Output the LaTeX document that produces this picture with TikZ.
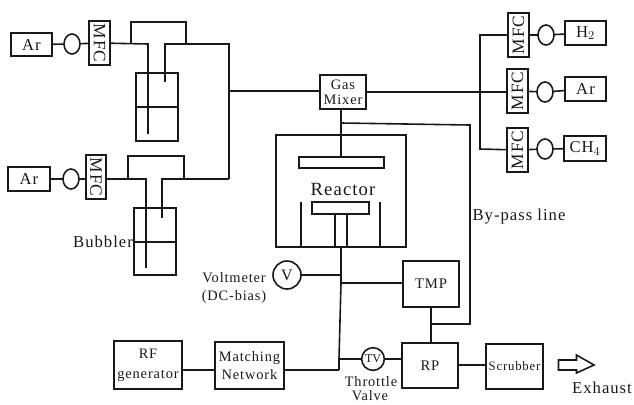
\documentclass[tikz,border=0pt]{standalone}
\usepackage{fontspec}
\setmainfont{Liberation Serif}
\newfontfamily\wide[LetterSpace=6]{Liberation Serif}
\usetikzlibrary{shapes.geometric}
\newcommand\boxn[6][]{%
  \pgfmathsetmacro\bw{(#4-#2)*0.75}\pgfmathsetmacro\bh{(#5-#3)*0.75}%
  \pgfmathsetmacro\cx{(#4+#2)/2}\pgfmathsetmacro\cy{(#5+#3)/2}%
  \node[unit,minimum width=\bw pt,minimum height=\bh pt,#1] (#6) at (\cx,\cy)}
\tikzset{
  unit/.style={draw=ink,line width=1.2pt,inner sep=0pt,outer sep=0pt,align=center,text=ink},
  gauge/.style={ellipse,draw=ink,line width=1.2pt,inner sep=0pt,outer sep=0pt,minimum width=12pt,minimum height=15pt},
  dial/.style={circle,draw=ink,line width=1.2pt,inner sep=0pt,outer sep=0pt,text=ink},
  pipe/.style={draw=ink,line width=1.2pt,line join=miter},
  label/.style={text=ink,inner sep=0pt,align=center},
  small/.style={font=\fontsize{10.8}{12}\selectfont\wide},
  mid/.style={font=\fontsize{12.5}{14}\selectfont\wide},
  flow/.style={font=\fontsize{13}{15}\selectfont\wide},
  pump/.style={font=\fontsize{11}{13}\selectfont\wide},
  big/.style={font=\fontsize{14}{16}\selectfont\wide},
}
\definecolor{ink}{gray}{0.1}
\begin{document}
\begin{tikzpicture}[x=0.75pt,y=-0.75pt]
\useasboundingbox (0,0) rectangle (634,404);
% left supply 1
\boxn[mid]{11}{33}{52}{56}{ar1} {Ar};
\node[gauge] (g1) at (72,44) {};
\boxn[flow]{89}{21}{110}{65}{mfc1} {\rotatebox{-90}{MFC}};
\boxn{136}{73}{178}{141}{bub1} {};
% left supply 2
\boxn[mid]{8}{167}{50}{191}{ar2} {Ar};
\node[gauge] (g2) at (71,179) {};
\boxn[flow]{86}{155}{106}{199}{mfc2} {\rotatebox{-90}{MFC}};
\boxn{134}{208}{176}{275}{bub2} {};
% mixer
\boxn[small]{320}{75}{366}{109}{mix} {Gas\\[-1pt]Mixer};
% right supplies
\boxn[flow]{508}{13}{529}{57}{mfcH} {\rotatebox{90}{MFC}};
\node[gauge] (gH) at (546,35) {};
\boxn[mid]{565}{21}{606}{45}{h2} {H$_2$};
\boxn[flow]{507}{69}{528}{113}{mfcA} {\rotatebox{90}{MFC}};
\node[gauge] (gA) at (545,92) {};
\boxn[mid]{565}{77}{606}{101}{arR} {Ar};
\boxn[flow]{507}{128}{528}{172}{mfcC} {\rotatebox{90}{MFC}};
\node[gauge] (gC) at (545,149) {};
\boxn[mid]{564}{136}{606}{161}{ch4} {CH$_4$};
% reactor
\boxn{276}{135}{406}{247}{reactor} {};
\boxn{299}{157}{384}{168}{shower} {};
\boxn{312}{202}{369}{214}{holder} {};
\boxn{335}{214}{347}{247}{stem} {};
\node[label,big] (rlabel) at (343,189) {Reactor};
% lower units
\node[dial,minimum size=21pt,font=\fontsize{12}{14}\selectfont] (volt) at (287,275) {V};
\boxn[pump]{403}{261}{459}{307}{tmp} {TMP};
\boxn[pump]{402}{343}{458}{388}{rp} {RP};
\node[dial,minimum size=17pt,font=\fontsize{9}{11}\selectfont] (tv) at (373,359) {TV};
\boxn[small]{114}{341}{182}{389}{rf} {RF\\[3pt]generator};
\boxn[small]{215}{342}{284}{389}{match} {Matching\\[1pt]Network};
\boxn[font=\fontsize{9.6}{11}\selectfont\wide]{486}{344}{543}{389}{scrub} {Scrubber};
% labels
\node[label,mid] (lbub) at (103,242) {Bubbler};
\node[label,small] (lvolt) at (234,278) {Voltmeter};
\node[label,small] (ldc) at (234,297) {(DC-bias)};
\node[label,mid] (lby) at (519,217) {By-pass line};
\node[label,small] (lth) at (371,382) {Throttle};
\node[label,small] (lva) at (370,396) {Valve};
\node[label,mid] (lex) at (602,388) {Exhaust};
% named junctions
\coordinate (a1) at (148,44); \coordinate (a2) at (148,134);
\coordinate (l1) at (131,44); \coordinate (l2) at (131,22); \coordinate (l3) at (186,22); \coordinate (l4) at (186,44);
\coordinate (o1) at (165,82); \coordinate (o2) at (165,44);
\coordinate (t1) at (229,44); \coordinate (t2) at (229,179); \coordinate (t3) at (229,91);
\coordinate (b1) at (146,179); \coordinate (b2) at (146,268);
\coordinate (m1) at (128,179); \coordinate (m2) at (128,156); \coordinate (m3) at (184,156); \coordinate (m4) at (184,179);
\coordinate (p1) at (162,218); \coordinate (p2) at (162,179);
\coordinate (r1) at (480,92); \coordinate (r2) at (480,35); \coordinate (r3) at (480,149);
\coordinate (s1) at (341,123); \coordinate (s2) at (470,125); \coordinate (s3) at (470,324); \coordinate (s4) at (431,324);
\coordinate (w1) at (301,202); \coordinate (w2) at (301,247); \coordinate (w3) at (380,202); \coordinate (w4) at (380,247);
\coordinate (v0) at (341,247); \coordinate (v1) at (341,275); \coordinate (v2) at (341,283); \coordinate (v3) at (339,359); \coordinate (v4) at (339,370);
% left connectors
\draw[pipe] (ar1) -- (g1) -- (mfc1);
\draw[pipe] (mfc1) -- (a1) -- (a2);
\draw[pipe] (l1) -- (l2) -- (l3) -- (l4);
\draw[pipe] (o1) -- (o2) -- (t1) -- (t2);
\draw[pipe] (bub1.west |- 0,107) -- (bub1.east |- 0,107);
\draw[pipe] (ar2.east |- g2) -- (g2) -- (mfc2.west |- g2);
\draw[pipe] (mfc2.east |- b1) -- (b1) -- (b2);
\draw[pipe] (m1) -- (m2) -- (m3) -- (m4);
\draw[pipe] (p1) -- (p2) -- (t2);
\draw[pipe] (bub2.west |- 0,242) -- (bub2.east |- 0,242);
\draw[pipe] (t3) -- (mix.west |- t3);
% right connectors
\draw[pipe] (mix.east |- r1) -- (mfcA.west |- r1);
\draw[pipe] (mfcH) -- (r2) -- (r3) -- (mfcC);
\draw[pipe] (mfcH) -- (gH) -- (h2);
\draw[pipe] (mfcA) -- (gA) -- (arR);
\draw[pipe] (mfcC) -- (gC) -- (ch4);
% reactor connectors
\draw[pipe] (mix.south -| s1) -- (shower.north -| s1);
\draw[pipe] (s1) -- (s2) -- (s3) -- (s4);
\draw[pipe] (w1) -- (w2);
\draw[pipe] (w3) -- (w4);
% lower connectors
\draw[pipe] (v0) -- (v2) -- (v3) -- (v4);
\draw[pipe] (volt) -- (v1);
\draw[pipe] (v2) -- (tmp.west |- v2);
\draw[pipe] (v3) -- (tv);
\draw[pipe] (tv) -- (rp.west |- tv);
\draw[pipe] (tmp.south -| s4) -- (rp.north -| s4);
\draw[pipe] (rf.east |- v4) -- (match.west |- v4);
\draw[pipe] (match.east |- v4) -- (v4);
\coordinate (x1) at (458,365);
\draw[pipe] (x1) -- (scrub.west |- x1);
% exhaust arrow
\draw[pipe,fill=white] (558.5,360) -- (576.5,360) -- (576.5,355) -- (594,365) -- (576.5,373) -- (576.5,370) -- (558.5,370) -- cycle;
\end{tikzpicture}
\end{document}
